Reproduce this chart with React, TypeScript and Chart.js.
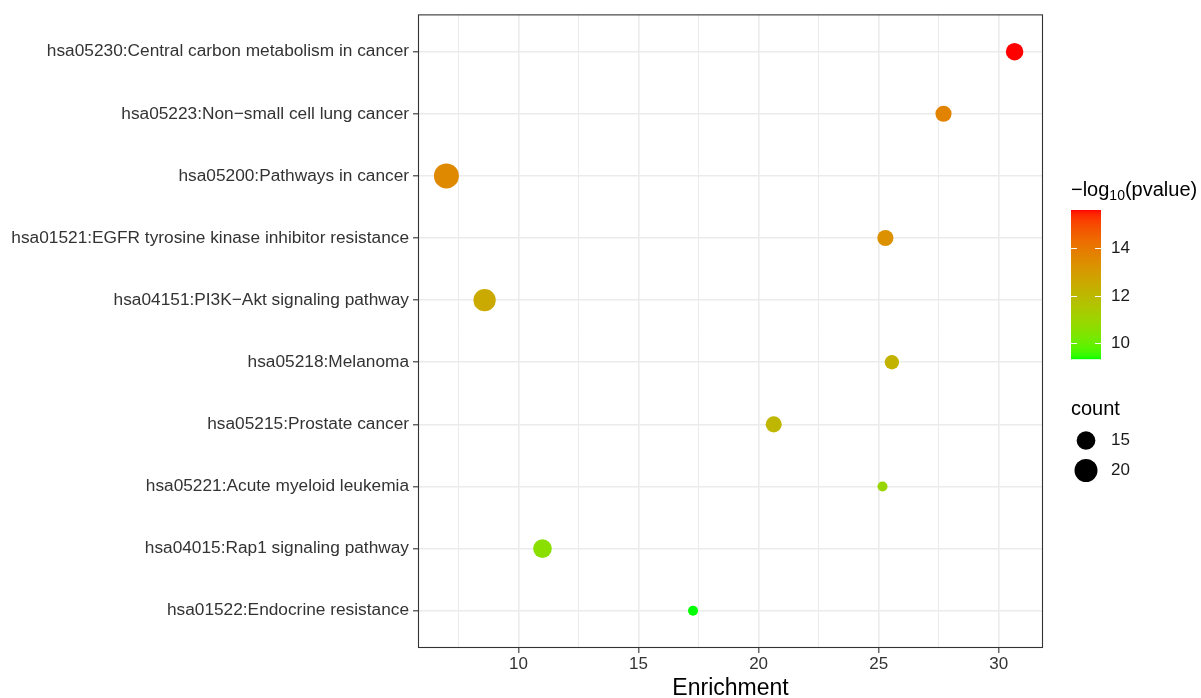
import React, { useEffect, useRef } from "react";
import { Chart, registerables } from "chart.js";

Chart.register(...registerables);

// ---------------- data ----------------
const pathways = [
  "hsa05230:Central carbon metabolism in cancer",
  "hsa05223:Non\u2212small cell lung cancer",
  "hsa05200:Pathways in cancer",
  "hsa01521:EGFR tyrosine kinase inhibitor resistance",
  "hsa04151:PI3K\u2212Akt signaling pathway",
  "hsa05218:Melanoma",
  "hsa05215:Prostate cancer",
  "hsa05221:Acute myeloid leukemia",
  "hsa04015:Rap1 signaling pathway",
  "hsa01522:Endocrine resistance",
];
const enrichment = [30.66, 27.7, 7.0, 25.28, 8.59, 25.55, 20.63, 25.16, 11.0, 17.27];
const counts = [14, 13, 23, 13, 19, 12, 13, 11, 15, 11];
const negLog10P = [15.61, 13.7, 13.55, 13.3, 12.55, 12.2, 12.1, 10.95, 10.6, 9.34];

const xTicks = [7.5, 10, 12.5, 15, 17.5, 20, 22.5, 25, 27.5, 30];
const xMajor = [10, 15, 20, 25, 30];
const colorTicks = [10, 12, 14];
const countTicks = [15, 20];

// ---------------- scales ----------------
const pMin = Math.min(...negLog10P);
const pMax = Math.max(...negLog10P);
const cMin = Math.min(...counts);
const cMax = Math.max(...counts);
const xLo = Math.min(...enrichment);
const xHi = Math.max(...enrichment);
const xExp = (xHi - xLo) * 0.05;

const DIAM_MIN = 10;
const DIAM_MAX = 25;
function radiusFor(c: number) {
  const u = Math.max(0, Math.min(1, (c - cMin) / (cMax - cMin)));
  return (DIAM_MIN + (DIAM_MAX - DIAM_MIN) * Math.sqrt(u)) / 2;
}

// Lab interpolation (like ggplot2 scale_colour_gradient)
function s2l(c: number) {
  c /= 255;
  return c <= 0.04045 ? c / 12.92 : Math.pow((c + 0.055) / 1.055, 2.4);
}
function l2s(c: number) {
  const v = c <= 0.0031308 ? 12.92 * c : 1.055 * Math.pow(c, 1 / 2.4) - 0.055;
  return Math.round(Math.min(1, Math.max(0, v)) * 255);
}
const Xn = 0.95047, Yn = 1.0, Zn = 1.08883;
function rgbToLab(rgb: number[]) {
  const R = s2l(rgb[0]), G = s2l(rgb[1]), B = s2l(rgb[2]);
  const X = 0.4124564 * R + 0.3575761 * G + 0.1804375 * B;
  const Y = 0.2126729 * R + 0.7151522 * G + 0.072175 * B;
  const Z = 0.0193339 * R + 0.119192 * G + 0.9503041 * B;
  const f = (t: number) => (t > 0.008856 ? Math.cbrt(t) : 7.787 * t + 16 / 116);
  const fx = f(X / Xn), fy = f(Y / Yn), fz = f(Z / Zn);
  return [116 * fy - 16, 500 * (fx - fy), 200 * (fy - fz)];
}
function labToRgb(lab: number[]) {
  const fy = (lab[0] + 16) / 116;
  const fx = fy + lab[1] / 500;
  const fz = fy - lab[2] / 200;
  const fi = (t: number) => (t * t * t > 0.008856 ? t * t * t : (t - 16 / 116) / 7.787);
  const X = Xn * fi(fx), Y = Yn * fi(fy), Z = Zn * fi(fz);
  const R = 3.2404542 * X - 1.5371385 * Y - 0.4985314 * Z;
  const G = -0.969266 * X + 1.8760108 * Y + 0.041556 * Z;
  const B = 0.0556434 * X - 0.2040259 * Y + 1.0572252 * Z;
  return [l2s(R), l2s(G), l2s(B)];
}
const LOW = rgbToLab([0, 255, 0]);
const HIGH = rgbToLab([255, 0, 0]);
function colorFor(v: number) {
  const t = Math.max(0, Math.min(1, (v - pMin) / (pMax - pMin)));
  const lab = [0, 1, 2].map((k) => LOW[k] + (HIGH[k] - LOW[k]) * t);
  const [r, g, b] = labToRgb(lab);
  return `rgb(${r},${g},${b})`;
}

const FONT = "'Liberation Sans', Arial, Helvetica, sans-serif";
const AXIS_TEXT = "#333333";

const ggPlugin = {
  id: "ggExtras",
  afterDraw(chart: any) {
    const ctx = chart.ctx as CanvasRenderingContext2D;
    const { left, right, top, bottom } = chart.chartArea;
    ctx.save();
    // panel border
    ctx.strokeStyle = "#333333";
    ctx.lineWidth = 1.1;
    ctx.strokeRect(left + 0.5, top + 0.5, right - left - 1, bottom - top - 1);

    // x axis title
    ctx.fillStyle = "#000000";
    ctx.font = `23px ${FONT}`;
    ctx.textAlign = "center";
    ctx.textBaseline = "alphabetic";
    ctx.fillText("Enrichment", (left + right) / 2, 695);

    // colour legend title: −log10(pvalue)
    const lx = 1071;
    ctx.textAlign = "left";
    ctx.font = `20px ${FONT}`;
    let x = lx;
    const titleBase = 196;
    ctx.fillText("\u2212log", x, titleBase);
    x += ctx.measureText("\u2212log").width;
    ctx.font = `14px ${FONT}`;
    ctx.fillText("10", x, titleBase + 4);
    x += ctx.measureText("10").width;
    ctx.font = `20px ${FONT}`;
    ctx.fillText("(pvalue)", x, titleBase);

    // colour bar
    const bx = 1071, bw = 30, by = 210, bh = 149;
    for (let i = 0; i < bh; i++) {
      const v = pMax - ((i + 0.5) / bh) * (pMax - pMin);
      ctx.fillStyle = colorFor(v);
      ctx.fillRect(bx, by + i, bw, 1.2);
    }
    ctx.strokeStyle = "#FFFFFF";
    ctx.lineWidth = 1;
    ctx.font = `17px ${FONT}`;
    ctx.textBaseline = "middle";
    for (const v of colorTicks) {
      const y = Math.round(by + ((pMax - v) / (pMax - pMin)) * bh) + 0.5;
      ctx.beginPath();
      ctx.moveTo(bx, y);
      ctx.lineTo(bx + 6, y);
      ctx.moveTo(bx + bw - 6, y);
      ctx.lineTo(bx + bw, y);
      ctx.stroke();
      ctx.fillStyle = "#1A1A1A";
      ctx.fillText(String(v), 1111, y);
    }

    // size legend
    ctx.fillStyle = "#000000";
    ctx.font = `20px ${FONT}`;
    ctx.textBaseline = "alphabetic";
    ctx.fillText("count", lx, 415);
    const keyY = [440.5, 470.5];
    countTicks.forEach((c, i) => {
      ctx.fillStyle = "#000000";
      ctx.beginPath();
      ctx.arc(1086, keyY[i], radiusFor(c), 0, Math.PI * 2);
      ctx.fill();
      ctx.fillStyle = "#1A1A1A";
      ctx.font = `17px ${FONT}`;
      ctx.textBaseline = "middle";
      ctx.fillText(String(c), 1111, keyY[i]);
    });
    ctx.restore();
  },
};

export default function App() {
  const canvasRef = useRef<HTMLCanvasElement | null>(null);

  useEffect(() => {
    const canvas = canvasRef.current;
    if (!canvas) return;
    const chart = new Chart(canvas, {
      type: "scatter",
      data: {
        datasets: [
          {
            data: enrichment.map((x, i) => ({ x, y: i })),
            pointRadius: (c: any) => radiusFor(counts[c.dataIndex]),
            pointHoverRadius: (c: any) => radiusFor(counts[c.dataIndex]),
            pointBackgroundColor: (c: any) => colorFor(negLog10P[c.dataIndex]),
            pointBorderWidth: 0,
            pointBorderColor: "rgba(0,0,0,0)",
            clip: false as any,
          },
        ],
      },
      options: {
        animation: false,
        responsive: false,
        devicePixelRatio: 1,
        events: [],
        layout: { padding: { left: 0, top: 13, right: 158, bottom: 0 } },
        plugins: {
          legend: { display: false },
          tooltip: { enabled: false },
          title: { display: false },
        },
        scales: {
          x: {
            type: "linear",
            min: xLo - xExp,
            max: xHi + xExp,
            afterBuildTicks: (scale: any) => {
              scale.ticks = xTicks.map((v) => ({ value: v }));
            },
            afterFit: (scale: any) => {
              scale.height = 50;
            },
            border: { display: false },
            grid: {
              drawTicks: true,
              tickLength: 5,
              tickWidth: 1.1,
              color: "#EBEBEB",
              lineWidth: (c: any) => (xMajor.includes(c.tick?.value) ? 1.6 : 1.0),
              tickColor: (c: any) => (xMajor.includes(c.tick?.value) ? "#333333" : "rgba(0,0,0,0)"),
            },
            ticks: {
              autoSkip: false,
              maxRotation: 0,
              padding: 1,
              color: AXIS_TEXT,
              font: { family: FONT, size: 17 },
              callback: (v: any) => (xMajor.includes(Number(v)) ? String(v) : ""),
            },
          },
          y: {
            type: "linear",
            reverse: true,
            min: -0.6,
            max: pathways.length - 1 + 0.6,
            afterBuildTicks: (scale: any) => {
              scale.ticks = pathways.map((_, i) => ({ value: i }));
            },
            afterFit: (scale: any) => {
              scale.width = 418;
            },
            border: { display: false },
            grid: {
              drawTicks: true,
              tickLength: 5,
              tickWidth: 1.1,
              color: "#EBEBEB",
              lineWidth: 1.6,
              tickColor: "#333333",
            },
            ticks: {
              autoSkip: false,
              padding: 4,
              color: AXIS_TEXT,
              font: { family: FONT, size: 17.3 },
              callback: (v: any) => pathways[Number(v)] ?? "",
            },
          },
        },
      },
      plugins: [ggPlugin],
    } as any);
    return () => chart.destroy();
  }, []);

  return (
    <div style={{ position: "absolute", left: 0, top: 0, width: 1201, height: 698, background: "#FFFFFF" }}>
      <canvas ref={canvasRef} width={1201} height={698} style={{ display: "block", width: 1201, height: 698 }} />
    </div>
  );
}
